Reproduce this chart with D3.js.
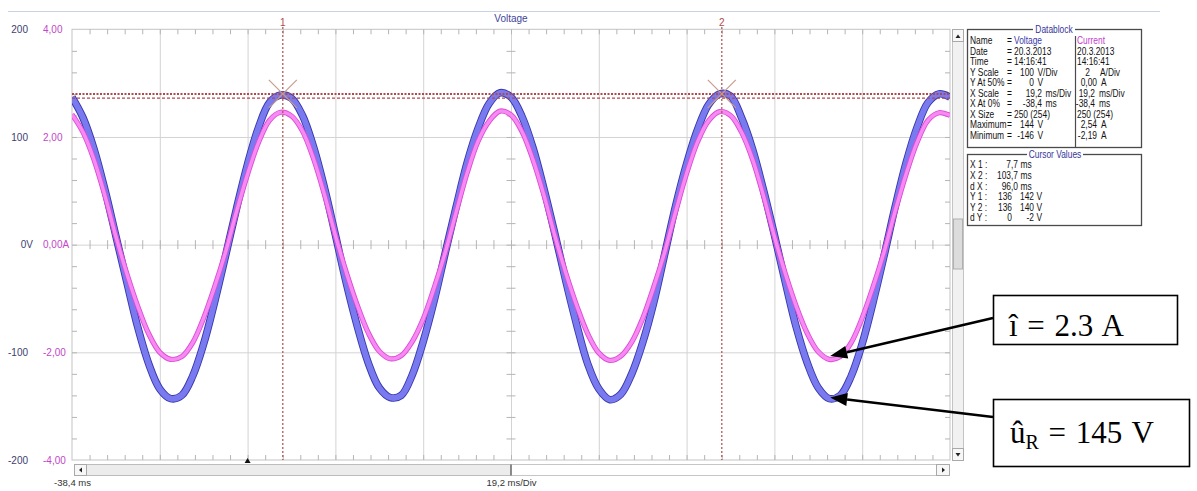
<!DOCTYPE html>
<html>
<head>
<meta charset="utf-8">
<script src="https://cdn.jsdelivr.net/npm/d3@7/dist/d3.min.js"></script>
<style>
  body { margin: 0; background: #fff; }
  svg { display: block; font-family: "Liberation Sans", Arial, sans-serif; }
</style>
</head>
<body>
<svg id="chart" width="1197" height="491"></svg>
<script>
// Sample times of the recorded traces (ms)
const timeMs = [
  -38.4, -36.0, -33.6, -31.2, -28.8, -26.4, -24.0, -21.6, -19.2, -16.8,
  -14.4, -12.0, -9.6, -7.2, -4.8, -2.4, 0.0, 2.4, 4.8, 7.2,
  9.6, 12.0, 14.4, 16.8, 19.2, 21.6, 24.0, 26.4, 28.8, 31.2,
  33.6, 36.0, 38.4, 40.8, 43.2, 45.6, 48.0, 50.4, 52.8, 55.2,
  57.6, 60.0, 62.4, 64.8, 67.2, 69.6, 72.0, 74.4, 76.8, 79.2,
  81.6, 84.0, 86.4, 88.8, 91.2, 93.6, 96.0, 98.4, 100.8, 103.2,
  105.6, 108.0, 110.4, 112.8, 115.2, 117.6, 120.0, 122.4, 124.8, 127.2,
  129.6, 132.0, 134.4, 136.8, 139.2, 141.6, 144.0, 146.4, 148.8, 151.2,
  153.6
];

// Voltage trace (V)
const voltage = [
  137, 118, 89, 51, 8, -35, -77, -111, -134, -143,
  -140, -122, -92, -53, -10, 34, 75, 109, 132, 139,
  136, 120, 91, 53, 9, -36, -76, -110, -133, -142,
  -140, -121, -90, -52, -8, 35, 76, 108, 131, 141,
  137, 119, 90, 52, 10, -34, -75, -111, -134, -144,
  -139, -120, -91, -54, -9, 36, 75, 107, 130, 140,
  138, 118, 89, 51, 9, -35, -77, -110, -133, -143,
  -140, -122, -92, -53, -10, 35, 76, 109, 132, 140,
  137
];

// Current trace (A)
const current = [
  2.42, 2.09, 1.58, 0.91, 0.15, -0.54, -1.15, -1.66, -2.00, -2.13,
  -2.08, -1.82, -1.36, -0.78, -0.13, 0.62, 1.31, 1.90, 2.31, 2.46,
  2.39, 2.11, 1.60, 0.93, 0.17, -0.52, -1.13, -1.64, -1.98, -2.12,
  -2.06, -1.80, -1.38, -0.80, -0.15, 0.60, 1.33, 1.92, 2.29, 2.48,
  2.41, 2.10, 1.58, 0.92, 0.16, -0.53, -1.14, -1.66, -2.01, -2.15,
  -2.07, -1.81, -1.37, -0.79, -0.14, 0.61, 1.32, 1.91, 2.30, 2.47,
  2.40, 2.09, 1.59, 0.91, 0.15, -0.54, -1.15, -1.65, -1.99, -2.13,
  -2.08, -1.82, -1.36, -0.78, -0.13, 0.62, 1.31, 1.90, 2.31, 2.45,
  2.40
];

// Axis ticks and labels
const voltTicks = [200, 100, 0, -100, -200];
const voltTickLabels = ["200", "100", "0V", "-100", "-200"];
const currTicks = [4, 2, 0, -2, -4];
const currTickLabels = ["4,00", "2,00", "0,00A", "-2,00", "-4,00"];
const timeLabelTicks = [-38.4, 57.6];
const timeLabels = ["-38,4 ms", "19,2 ms/Div"];

// Cursors
const cursorTimes = [7.7, 103.7];
const cursorNames = ["1", "2"];
const cursorLevels = [140, 136];
const triggerTime = 0;

// Datablock
const blockLabels = ["Name", "Date", "Time", "Y Scale", "Y At 50%", "X Scale", "X At 0%", "X Size", "Maximum", "Minimum"];
const voltValues = ["Voltage", "20.3.2013", "14:16:41", "100", "0", "19,2", "-38,4", "250 (254)", "144", "-146"];
const voltUnits = ["", "", "", "V/Div", "V", "ms/Div", "ms", "", "V", "V"];
const currValues = ["Current", "20.3.2013", "14:16:41", "2", "0,00", "19,2", "-38,4", "250 (254)", "2,54", "-2,19"];
const currUnits = ["", "", "", "A/Div", "A", "ms/Div", "ms", "", "A", "A"];

// Cursor values
const cursorRowLabels = ["X 1 :", "X 2 :", "d X :", "Y 1 :", "Y 2 :", "d Y :"];
const cursorCol1 = ["7,7", "103,7", "96,0", "136", "136", "0"];
const cursorCol1Units = ["ms", "ms", "ms", "", "", ""];
const cursorCol2 = ["", "", "", "142", "140", "-2"];

// Peak annotations
const peakCurrent = 2.3;
const peakVoltage = 145;
const annotTime = 127.4;

const svg = d3.select("#chart");
svg.append("rect").attr("width", 1197).attr("height", 491).attr("fill", "#fff");

const P = { left: 72, right: 950, top: 29.3, bottom: 460 };
const x = d3.scaleLinear().domain([-38.4, 153.6]).range([P.left, P.right]);
const yV = d3.scaleLinear().domain([-200, 200]).range([P.bottom, P.top]);
const yI = d3.scaleLinear().domain([-4, 4]).range([P.bottom, P.top]);

// top separator
svg.append("line").attr("x1", 8).attr("x2", 1160).attr("y1", 11.5).attr("y2", 11.5)
  .attr("stroke", "#c9d1e2").attr("stroke-width", 1);

svg.append("text").attr("x", x(57.6)).attr("y", 22).attr("text-anchor", "middle")
  .attr("font-size", 10).attr("fill", "#44449a").text("Voltage");

// grid
const majorX = d3.range(1, 10).map(i => -38.4 + 19.2 * i);
const gridX = svg.append("g").attr("transform", `translate(0,${P.bottom})`)
  .call(d3.axisBottom(x).tickValues(majorX).tickSize(-(P.bottom - P.top)).tickFormat(""));
const gridY = svg.append("g").attr("transform", `translate(${P.left},0)`)
  .call(d3.axisLeft(yV).tickValues([100, 0, -100]).tickSize(-(P.right - P.left)).tickFormat(""));
[gridX, gridY].forEach(g => {
  g.select(".domain").remove();
  g.selectAll("line").attr("stroke", "#d3d3d3").attr("stroke-width", 1);
});

svg.append("rect").attr("x", P.left).attr("y", P.top)
  .attr("width", P.right - P.left).attr("height", P.bottom - P.top)
  .attr("fill", "none").attr("stroke", "#c3c3c3").attr("stroke-width", 1);

// minor ticks
const minorX = d3.range(1, 50).map(i => -38.4 + 3.84 * i);
const minorV = d3.range(1, 20).map(i => -200 + 20 * i);
function tickAxis(axis, tx, ty) {
  const g = svg.append("g").attr("transform", `translate(${tx},${ty})`).call(axis);
  g.select(".domain").remove();
  g.selectAll("text").remove();
  g.selectAll("line").attr("stroke", "#b5b5b5").attr("stroke-width", 1);
}
tickAxis(d3.axisBottom(x).tickValues(minorX).tickSize(5), 0, P.top);
tickAxis(d3.axisTop(x).tickValues(minorX).tickSize(5), 0, P.bottom);
tickAxis(d3.axisRight(yV).tickValues(minorV).tickSize(5), P.left, 0);
tickAxis(d3.axisLeft(yV).tickValues(minorV).tickSize(5), P.right, 0);
tickAxis(d3.axisBottom(x).tickValues(minorX).tickSize(9), 0, yV(0) - 4.5);
tickAxis(d3.axisRight(yV).tickValues(minorV).tickSize(9), x(57.6) - 4.5, 0);

// axis labels
const vAxis = svg.append("g").attr("transform", "translate(28,0)")
  .call(d3.axisLeft(yV).tickValues(voltTicks).tickSize(0).tickPadding(0)
    .tickFormat((d, i) => voltTickLabels[i]));
vAxis.select(".domain").remove();
vAxis.selectAll("text").attr("fill", "#3d3d70").attr("font-size", 10)
  .attr("font-family", "Liberation Sans, Arial, sans-serif")
  .attr("dx", d => d === 0 ? 5 : 0);

const iAxis = svg.append("g").attr("transform", "translate(43,0)")
  .call(d3.axisRight(yI).tickValues(currTicks).tickSize(0).tickPadding(0)
    .tickFormat((d, i) => currTickLabels[i]));
iAxis.select(".domain").remove();
iAxis.selectAll("text").attr("fill", "#c446c8").attr("font-size", 10)
  .attr("font-family", "Liberation Sans, Arial, sans-serif");

const tAxis = svg.append("g").attr("transform", "translate(0,476)")
  .call(d3.axisBottom(x).tickValues(timeLabelTicks).tickSize(0).tickPadding(3)
    .tickFormat((d, i) => timeLabels[i]));
tAxis.select(".domain").remove();
tAxis.selectAll("text").attr("fill", "#333").attr("font-size", 9.5)
  .attr("font-family", "Liberation Sans, Arial, sans-serif");

// traces
svg.append("clipPath").attr("id", "plotClip").append("rect")
  .attr("x", P.left).attr("y", P.top).attr("width", P.right - P.left).attr("height", P.bottom - P.top);
const plotG = svg.append("g").attr("clip-path", "url(#plotClip)");

const vLine = d3.line().x((d, i) => x(timeMs[i])).y(d => yV(d)).curve(d3.curveCatmullRom.alpha(0.5));
const iLine = d3.line().x((d, i) => x(timeMs[i])).y(d => yI(d)).curve(d3.curveCatmullRom.alpha(0.5));

plotG.append("path").attr("d", vLine(voltage)).attr("fill", "none")
  .attr("stroke", "#3838aa").attr("stroke-width", 7.6).attr("stroke-linejoin", "round");
plotG.append("path").attr("d", vLine(voltage)).attr("fill", "none")
  .attr("stroke", "#7a7af0").attr("stroke-width", 5.8).attr("stroke-linejoin", "round");
plotG.append("path").attr("d", iLine(current)).attr("fill", "none")
  .attr("stroke", "#dc4cd8").attr("stroke-width", 5.2).attr("stroke-linejoin", "round");
plotG.append("path").attr("d", iLine(current)).attr("fill", "none")
  .attr("stroke", "#f68af2").attr("stroke-width", 3.4).attr("stroke-linejoin", "round");

// cursors
const cursorColor = "#b04a4a";
cursorLevels.forEach((lv, i) => {
  svg.append("line").attr("x1", P.left).attr("x2", P.right)
    .attr("y1", yV(lv)).attr("y2", yV(lv))
    .attr("stroke", cursorColor)
    .attr("stroke-width", i === 0 ? 2 : 1.2)
    .attr("stroke-dasharray", i === 0 ? "2,1.5" : "3,2");
});
cursorTimes.forEach((t, i) => {
  const cx = x(t);
  svg.append("line").attr("x1", cx).attr("x2", cx).attr("y1", 27).attr("y2", P.bottom)
    .attr("stroke", cursorColor).attr("stroke-width", 1.2).attr("stroke-dasharray", "2,2");
  svg.append("text").attr("x", cx).attr("y", 26).attr("text-anchor", "middle")
    .attr("font-size", 10).attr("fill", cursorColor).text(cursorNames[i]);
  const cy = yV(cursorLevels[0]);
  const arm = 14;
  svg.append("path")
    .attr("d", `M${cx - arm},${cy - arm}L${cx + arm},${cy + arm}M${cx + arm},${cy - arm}L${cx - arm},${cy + arm}`)
    .attr("stroke", "#c79c8c").attr("stroke-width", 1.2).attr("fill", "none");
});

// trigger marker
const tx0 = x(triggerTime);
svg.append("path").attr("d", `M${tx0 - 3},${P.bottom + 3}L${tx0 + 3},${P.bottom + 3}L${tx0},${P.bottom - 2}Z`)
  .attr("fill", "#111");

// vertical scrollbar
const vs = svg.append("g");
vs.append("rect").attr("x", 952.5).attr("y", 29.5).attr("width", 11).attr("height", 431)
  .attr("fill", "#f1f1f1").attr("stroke", "#c4c4c4");
vs.append("rect").attr("x", 952.5).attr("y", 29.5).attr("width", 11).attr("height", 12)
  .attr("fill", "#f7f7f7").attr("stroke", "#a9a9a9");
vs.append("path").attr("d", "M955.5,38L958,34.5L960.5,38Z").attr("fill", "#222");
vs.append("rect").attr("x", 953.5).attr("y", 219).attr("width", 9).attr("height", 50)
  .attr("fill", "#dcdcdc").attr("stroke", "#b0b0b0");
vs.append("rect").attr("x", 952.5).attr("y", 448.5).attr("width", 11).attr("height", 12)
  .attr("fill", "#f7f7f7").attr("stroke", "#a9a9a9");
vs.append("path").attr("d", "M955.5,453L958,456.5L960.5,453Z").attr("fill", "#222");

// horizontal scrollbar
const hs = svg.append("g");
hs.append("rect").attr("x", 74.5).attr("y", 464.5).attr("width", 875).attr("height", 11)
  .attr("fill", "#fff").attr("stroke", "#c6c6c6");
hs.append("rect").attr("x", 86.5).attr("y", 464.5).attr("width", x(57.6) - 86.5).attr("height", 11)
  .attr("fill", "#ececec").attr("stroke", "#bdbdbd");
hs.append("line").attr("x1", x(57.6)).attr("x2", x(57.6)).attr("y1", 464.5).attr("y2", 475.5)
  .attr("stroke", "#555").attr("stroke-width", 1.2);
hs.append("rect").attr("x", 74.5).attr("y", 464.5).attr("width", 12).attr("height", 11)
  .attr("fill", "#f7f7f7").attr("stroke", "#a9a9a9");
hs.append("path").attr("d", "M79,470L82,467.5L82,472.5Z").attr("fill", "#222");
hs.append("rect").attr("x", 936.5).attr("y", 464.5).attr("width", 13).attr("height", 11)
  .attr("fill", "#f7f7f7").attr("stroke", "#a9a9a9");
hs.append("path").attr("d", "M945,470L942,467.5L942,472.5Z").attr("fill", "#222");

// Info panels: narrow UI font, drawn in a horizontally condensed group
const PANEL_X0 = 970, SQ = 0.8;
const px = X => (X - PANEL_X0) / SQ;
function panelGroup() {
  return svg.append("g").attr("transform", `translate(${PANEL_X0},0) scale(${SQ},1)`)
    .attr("font-size", 10.5).attr("fill", "#111");
}
function ptext(g, X, Y, str, anchor, color) {
  return g.append("text").attr("x", px(X)).attr("y", Y)
    .attr("text-anchor", anchor || "start").attr("fill", color || "#111").text(str);
}

// Datablock panel
svg.append("rect").attr("x", 967.5).attr("y", 29.5).attr("width", 174).attr("height", 118)
  .attr("fill", "#fff").attr("stroke", "#4a4a4a").attr("stroke-width", 1.3);
svg.append("line").attr("x1", 1075.5).attr("x2", 1075.5).attr("y1", 36).attr("y2", 147.5)
  .attr("stroke", "#4a4a4a").attr("stroke-width", 1.2);
svg.append("rect").attr("x", 1033).attr("y", 25).attr("width", 42).attr("height", 9).attr("fill", "#fff");
const db = panelGroup();
ptext(db, 1054, 33.5, "Datablock", "middle", "#35359a");
blockLabels.forEach((lab, i) => {
  const by = 44.5 + i * 10.5;
  ptext(db, 970, by, lab);
  ptext(db, 1007, by, "=");
  if (voltUnits[i]) {
    const end = voltUnits[i].startsWith("m") ? 1042 : 1034;
    ptext(db, end, by, voltValues[i], "end");
    ptext(db, end + 3.5, by, voltUnits[i]);
  } else {
    ptext(db, 1014, by, voltValues[i], "start", i === 0 ? "#3a3aa8" : "#111");
  }
  if (currUnits[i]) {
    const end = currUnits[i] === "A/Div" ? 1090 : (currUnits[i].startsWith("m") ? 1095 : 1097);
    ptext(db, end, by, currValues[i], "end");
    ptext(db, currUnits[i] === "A/Div" ? 1100 : end + 4, by, currUnits[i]);
  } else {
    ptext(db, 1077, by, currValues[i], "start", i === 0 ? "#c43cd0" : "#111");
  }
});

// Cursor values panel
svg.append("rect").attr("x", 967.5).attr("y", 154.5).attr("width", 174).attr("height", 71)
  .attr("fill", "#fff").attr("stroke", "#4a4a4a").attr("stroke-width", 1.3);
svg.append("rect").attr("x", 1027).attr("y", 150).attr("width", 56).attr("height", 9).attr("fill", "#fff");
const cv = panelGroup();
ptext(cv, 1055, 158.5, "Cursor Values", "middle", "#35359a");
cursorRowLabels.forEach((lab, i) => {
  const by = 168.5 + i * 10.6;
  ptext(cv, 970, by, lab);
  const end1 = cursorCol1Units[i] ? 1018 : 1012;
  ptext(cv, end1, by, cursorCol1[i], "end");
  if (cursorCol1Units[i]) ptext(cv, 1020.5, by, cursorCol1Units[i]);
  if (cursorCol2[i]) {
    ptext(cv, 1034, by, cursorCol2[i], "end");
    ptext(cv, 1036.5, by, "V");
  }
});

// Peak annotations with arrows
function arrow(x1, y1, x2, y2) {
  const ang = Math.atan2(y2 - y1, x2 - x1);
  const len = 17, half = 6.5;
  const bx = x2 - len * Math.cos(ang), by = y2 - len * Math.sin(ang);
  svg.append("line").attr("x1", x1).attr("y1", y1).attr("x2", bx).attr("y2", by)
    .attr("stroke", "#000").attr("stroke-width", 2.6);
  const ox = -Math.sin(ang) * half, oy = Math.cos(ang) * half;
  svg.append("path")
    .attr("d", `M${x2},${y2}L${bx + ox},${by + oy}L${bx - ox},${by - oy}Z`)
    .attr("fill", "#000");
}
const ann = svg.append("g").attr("font-family", "Liberation Serif, Times New Roman, serif")
  .attr("fill", "#000").attr("word-spacing", 2);
ann.append("rect").attr("x", 993.5).attr("y", 295.5).attr("width", 184).attr("height", 49)
  .attr("fill", "#fff").attr("stroke", "#000").attr("stroke-width", 1.6);
ann.append("text").attr("x", 1009).attr("y", 336).attr("font-size", 31)
  .text(`î = ${peakCurrent.toFixed(1)} A`);
ann.append("rect").attr("x", 993.5).attr("y", 399.5).attr("width", 196).attr("height", 67)
  .attr("fill", "#fff").attr("stroke", "#000").attr("stroke-width", 1.6);
const t2 = ann.append("text").attr("x", 1010).attr("y", 443).attr("font-size", 31);
t2.append("tspan").text("û");
t2.append("tspan").attr("font-size", 20).attr("dy", 6).text("R");
t2.append("tspan").attr("dy", -6).text(` = ${peakVoltage} V`);

arrow(993, 318, x(annotTime), yI(-2.07));
arrow(993, 417, x(annotTime), yV(-142));
</script>
</body>
</html>
